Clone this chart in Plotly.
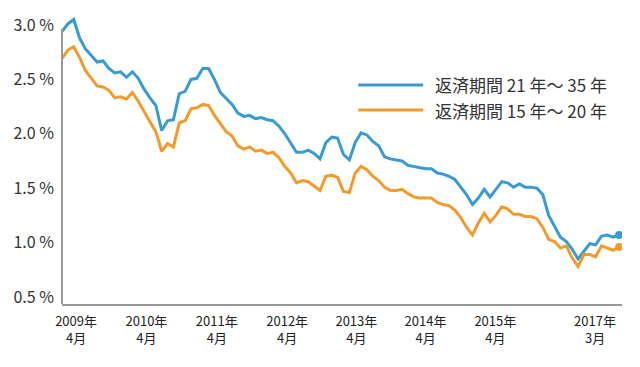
import plotly.graph_objects as go

# Months: 2009-04 .. 2017-03 (96 monthly points)
months = [f"{2009 + (3 + i) // 12}年{(3 + i) % 12 + 1}月" for i in range(96)]

rate_21_35 = [
    2.94, 3.01, 3.05, 2.88, 2.78, 2.72, 2.66, 2.67, 2.60, 2.56, 2.57, 2.52,
    2.57, 2.51, 2.41, 2.33, 2.26, 2.03, 2.12, 2.13, 2.37, 2.39, 2.50, 2.51,
    2.60, 2.60, 2.50, 2.38, 2.32, 2.27, 2.19, 2.16, 2.17, 2.14, 2.15, 2.13,
    2.12, 2.07, 2.00, 1.92, 1.83, 1.83, 1.85, 1.82, 1.77, 1.92, 1.97, 1.96,
    1.81, 1.76, 1.92, 2.01, 1.99, 1.93, 1.89, 1.79, 1.77, 1.76, 1.75, 1.71,
    1.70, 1.69, 1.68, 1.68, 1.64, 1.63, 1.61, 1.58, 1.51, 1.44, 1.35, 1.41,
    1.49, 1.42, 1.49, 1.56, 1.55, 1.51, 1.54, 1.51, 1.51, 1.50, 1.44, 1.25,
    1.15, 1.05, 1.01, 0.94, 0.85, 0.92, 0.99, 0.98, 1.06, 1.07, 1.05, 1.07,
]

rate_15_20 = [
    2.69, 2.77, 2.80, 2.70, 2.58, 2.51, 2.44, 2.43, 2.40, 2.33, 2.34, 2.32,
    2.38, 2.30, 2.20, 2.11, 2.02, 1.84, 1.91, 1.88, 2.10, 2.12, 2.23, 2.24,
    2.27, 2.26, 2.17, 2.09, 2.02, 1.98, 1.89, 1.86, 1.88, 1.84, 1.85, 1.82,
    1.83, 1.78, 1.70, 1.64, 1.55, 1.57, 1.56, 1.52, 1.48, 1.61, 1.62, 1.60,
    1.47, 1.46, 1.64, 1.70, 1.67, 1.61, 1.57, 1.51, 1.48, 1.48, 1.49, 1.45,
    1.42, 1.41, 1.41, 1.41, 1.37, 1.35, 1.34, 1.30, 1.23, 1.14, 1.07, 1.18,
    1.27, 1.19, 1.25, 1.33, 1.31, 1.26, 1.26, 1.24, 1.24, 1.22, 1.14, 1.03,
    1.01, 0.95, 0.97, 0.86, 0.78, 0.89, 0.89, 0.87, 0.97, 0.95, 0.93, 0.96,
]

series_names = ["返済期間 21 年～ 35 年", "返済期間 15 年～ 20 年"]

y_tickvals = [0.5, 1.0, 1.5, 2.0, 2.5, 3.0]
y_ticktext = ["0.5 %", "1.0 %", "1.5 %", "2.0 %", "2.5 %", "3.0 %"]

x_tickvals = [2.4, 14.4, 26.4, 38.4, 50.2, 62.0, 73.9, 90.9]
x_ticktext = ["2009年<br>4月", "2010年<br>4月", "2011年<br>4月", "2012年<br>4月",
              "2013年<br>4月", "2014年<br>4月", "2015年<br>4月", "2017年<br>3月"]

BLUE = "#3a9bd2"
ORANGE = "#f29b2c"
FONT = "Noto Sans CJK JP"

x_idx = list(range(len(months)))

fig = go.Figure()
for vals, color, name in [(rate_21_35, BLUE, series_names[0]),
                          (rate_15_20, ORANGE, series_names[1])]:
    fig.add_trace(go.Scatter(
        x=x_idx, y=vals, mode="lines", name=name,
        line=dict(color=color, width=3),
        customdata=months, hovertemplate="%{customdata}: %{y:.2f}%<extra></extra>",
    ))
    fig.add_trace(go.Scatter(
        x=[x_idx[-1]], y=[vals[-1]], mode="markers", showlegend=False,
        marker=dict(color=color, size=8), hoverinfo="skip",
    ))

# Custom legend (line samples + text)
for yy, color, name in [(0.758, BLUE, series_names[0]), (0.671, ORANGE, series_names[1])]:
    fig.add_shape(type="line", xref="paper", yref="paper",
                  x0=0.529, x1=0.645, y0=yy, y1=yy,
                  line=dict(color=color, width=3))
    fig.add_annotation(xref="paper", yref="paper", x=0.662, y=yy,
                       xanchor="left", yanchor="middle", showarrow=False,
                       text=name, font=dict(family=FONT, size=17, color="#333333"))

# Left axis line
fig.add_shape(type="line", xref="paper", yref="y", x0=0, x1=0, y0=0.436, y1=2.963,
              line=dict(color="#999999", width=2))

fig.update_layout(
    width=640, height=367,
    margin=dict(l=62, r=18, t=15, b=63, autoexpand=False),
    paper_bgcolor="white", plot_bgcolor="white",
    showlegend=False,
    font=dict(family=FONT, color="#333333"),
    xaxis=dict(range=[0, 95.5], tickvals=x_tickvals, ticktext=x_ticktext,
               showgrid=False, zeroline=False, showline=True, automargin=False,
               linecolor="#999999", linewidth=2, ticks="", ticklabelstandoff=4,
               tickfont=dict(family=FONT, size=13, color="#222222")),
    yaxis=dict(range=[0.436, 3.092], tickvals=y_tickvals, ticktext=y_ticktext,
               showgrid=False, zeroline=False, showline=False, ticks="",
               automargin=False, ticklabelstandoff=7,
               tickfont=dict(family=FONT, size=16, color="#333333")),
)

fig.write_html("out.html",
               config={"displayModeBar": False},
               post_script="document.body.style.margin='0';document.body.style.overflow='hidden';")
